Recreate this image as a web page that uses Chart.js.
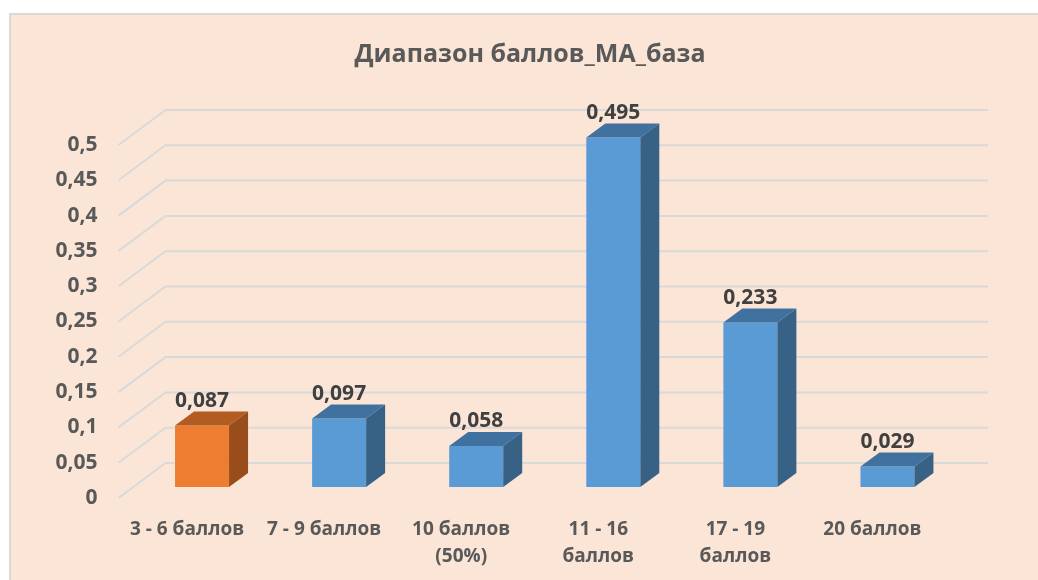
<!DOCTYPE html>
<html>
<head>
<meta charset="utf-8">
<script src="https://cdn.jsdelivr.net/npm/chart.js@4.4.1/dist/chart.umd.min.js"></script>
<style>
  html, body { margin: 0; padding: 0; background: #fff; overflow: hidden; width: 1038px; height: 580px; }
  #frame { position: absolute; left: 9px; top: 13px; width: 1100px; height: 600px;
           background: #FBE5D6; border-style: solid; border-color: #D9D9D9; border-width: 2px 0 0 2px; }
  #wrap { position: absolute; left: 0; top: 0; width: 1038px; height: 580px; }
</style>
</head>
<body>
<div id="frame"></div>
<div id="wrap"><canvas id="barChart" width="1038" height="580"></canvas></div>
<script>
// данные диаграммы
var chartTitle = 'Диапазон баллов_МА_база';
var categories = [
    ['3 - 6 баллов'],
    ['7 - 9 баллов'],
    ['10 баллов', '(50%)'],
    ['11 - 16', 'баллов'],
    ['17 - 19', 'баллов'],
    ['20 баллов']
];
var values = [0.087, 0.097, 0.058, 0.495, 0.233, 0.029];
var yTicks = [0, 0.05, 0.1, 0.15, 0.2, 0.25, 0.3, 0.35, 0.4, 0.45, 0.5];

var frontColors = ['#ED7D31', '#5B9BD5', '#5B9BD5', '#5B9BD5', '#5B9BD5', '#5B9BD5'];
var topColors = ['#B35C22', '#41729F', '#41729F', '#41729F', '#41729F', '#41729F'];
var sideColors = ['#9A4D1C', '#386186', '#386186', '#386186', '#386186', '#386186'];

function fmt(v) {
    return String(Number(v.toFixed(3))).replace('.', ',');
}

// псевдо-3D: стенка, грани столбиков, подписи
var wallDx = 47, wallDy = -35;   // глубина задней стенки
var barDx = 15, barDy = -11;     // смещение столбиков вглубь
var depthDx = 19, depthDy = -14; // глубина столбика

var fake3d = {
    id: 'fake3d',
    beforeDatasetsDraw: function (chart) {
        var ctx = chart.ctx, area = chart.chartArea, y = chart.scales.y;
        ctx.save();
        ctx.strokeStyle = '#D9D9D9';
        ctx.lineWidth = 2;
        yTicks.forEach(function (t) {
            var py = y.getPixelForValue(t);
            ctx.beginPath();
            ctx.moveTo(area.left, py);
            ctx.lineTo(area.left + wallDx, py + wallDy);
            ctx.lineTo(area.right + wallDx, py + wallDy);
            ctx.stroke();
        });
        ctx.restore();
        ctx.save();
        ctx.translate(barDx, barDy);
    },
    afterDatasetsDraw: function (chart) {
        var ctx = chart.ctx;
        var meta = chart.getDatasetMeta(0);
        meta.data.forEach(function (bar, i) {
            var l = bar.x - bar.width / 2, r = bar.x + bar.width / 2;
            var t = bar.y, b = bar.base;
            ctx.fillStyle = topColors[i];
            ctx.beginPath();
            ctx.moveTo(l, t);
            ctx.lineTo(r, t);
            ctx.lineTo(r + depthDx, t + depthDy);
            ctx.lineTo(l + depthDx, t + depthDy);
            ctx.closePath();
            ctx.fill();
            ctx.fillStyle = sideColors[i];
            ctx.beginPath();
            ctx.moveTo(r, t);
            ctx.lineTo(r + depthDx, t + depthDy);
            ctx.lineTo(r + depthDx, b + depthDy);
            ctx.lineTo(r, b);
            ctx.closePath();
            ctx.fill();
            // подпись значения
            ctx.fillStyle = '#404040';
            ctx.font = 'bold 21px "Open Sans"';
            ctx.textAlign = 'center';
            ctx.textBaseline = 'alphabetic';
            ctx.fillText(fmt(values[i]), bar.x, t + depthDy - 5);
        });
        ctx.restore();
    },
    afterDraw: function (chart) {
        var ctx = chart.ctx;
        ctx.save();
        ctx.fillStyle = '#595959';
        ctx.font = 'bold 25px "Open Sans"';
        ctx.textAlign = 'center';
        ctx.textBaseline = 'alphabetic';
        ctx.fillText(chartTitle, 530, 62);
        ctx.restore();
    }
};

document.addEventListener('DOMContentLoaded', function () {
    var ctx = document.getElementById('barChart').getContext('2d');
    var barChart = new Chart(ctx, {
        type: 'bar',
        data: {
            labels: categories,
            datasets: [{
                data: values,
                backgroundColor: frontColors,
                borderWidth: 0,
                barPercentage: 0.394,
                categoryPercentage: 1,
                clip: false
            }]
        },
        options: {
            responsive: false,
            animation: false,
            layout: { padding: { left: 0, right: 97, top: 145, bottom: 0 } },
            plugins: {
                legend: { display: false },
                title: { display: false },
                tooltip: { enabled: false }
            },
            scales: {
                x: {
                    grid: { display: false, drawTicks: false },
                    border: { display: false },
                    ticks: {
                        color: '#595959',
                        font: { family: 'Open Sans', size: 19, weight: 'bold', lineHeight: 1.42 },
                        padding: 18,
                        maxRotation: 0,
                        autoSkip: false
                    },
                    afterFit: function (scale) { scale.height = 82; }
                },
                y: {
                    min: 0,
                    max: 0.5,
                    grid: { display: false, drawTicks: false },
                    border: { display: false },
                    afterBuildTicks: function (scale) {
                        scale.ticks = yTicks.map(function (v) { return { value: v }; });
                    },
                    ticks: {
                        color: '#595959',
                        font: { family: 'Open Sans', size: 21, weight: 'bold' },
                        padding: 21,
                        callback: function (v) { return fmt(v); }
                    },
                    afterFit: function (scale) { scale.width = 118.5; }
                }
            }
        },
        plugins: [fake3d]
    });
});
</script>
</body>
</html>
